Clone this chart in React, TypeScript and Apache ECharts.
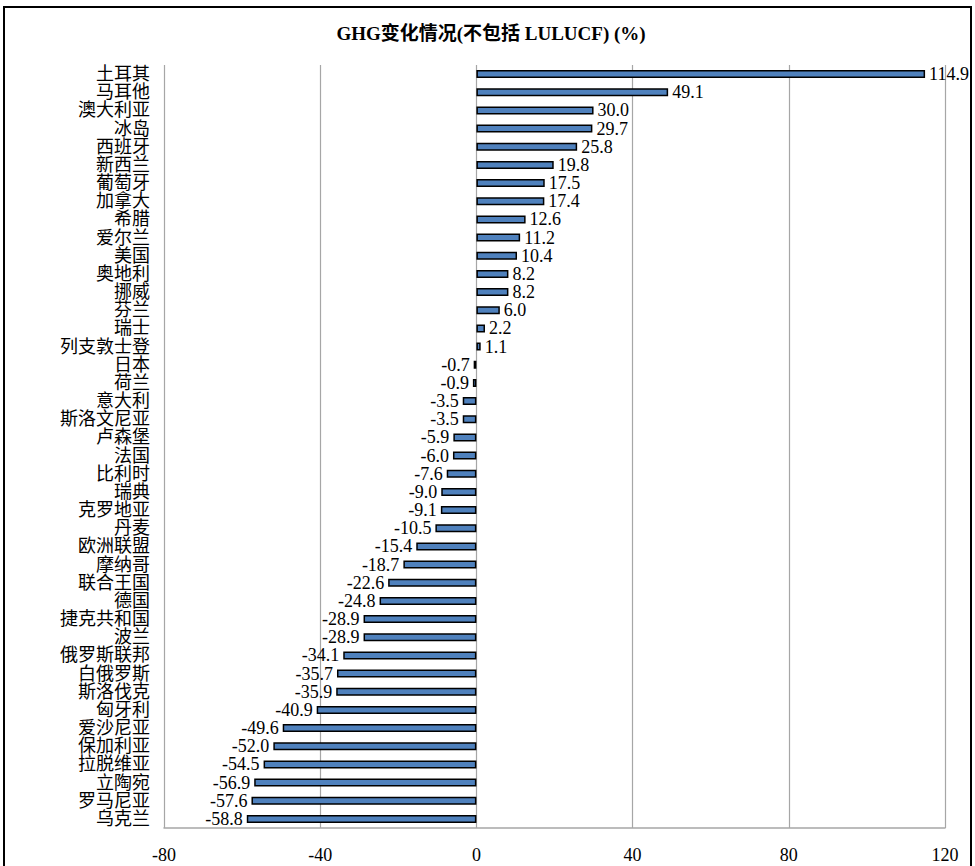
import React, { useEffect, useRef } from "react";
import * as echarts from "echarts";

const categories = [
  "土耳其", "马耳他", "澳大利亚", "冰岛", "西班牙", "新西兰", "葡萄牙", "加拿大", "希腊", "爱尔兰",
  "美国", "奥地利", "挪威", "芬兰", "瑞士", "列支敦士登", "日本", "荷兰", "意大利", "斯洛文尼亚",
  "卢森堡", "法国", "比利时", "瑞典", "克罗地亚", "丹麦", "欧洲联盟", "摩纳哥", "联合王国", "德国",
  "捷克共和国", "波兰", "俄罗斯联邦", "白俄罗斯", "斯洛伐克", "匈牙利", "爱沙尼亚", "保加利亚", "拉脱维亚", "立陶宛",
  "罗马尼亚", "乌克兰",
];

const values = [
  114.9, 49.1, 30.0, 29.7, 25.8, 19.8, 17.5, 17.4, 12.6, 11.2,
  10.4, 8.2, 8.2, 6.0, 2.2, 1.1, -0.7, -0.9, -3.5, -3.5,
  -5.9, -6.0, -7.6, -9.0, -9.1, -10.5, -15.4, -18.7, -22.6, -24.8,
  -28.9, -28.9, -34.1, -35.7, -35.9, -40.9, -49.6, -52.0, -54.5, -56.9,
  -57.6, -58.8,
];

const xTicks = { min: -80, max: 120, interval: 40 };
const titleText = "GHG变化情况(不包括 LULUCF) (%)";

const FONT = '"Liberation Serif", "Times New Roman", "Noto Sans CJK SC", serif';

export default function App() {
  const ref = useRef<HTMLDivElement>(null);
  useEffect(() => {
    if (!ref.current) return;
    const chart = echarts.init(ref.current, undefined, { renderer: "svg" });
    chart.setOption({
      animation: false,
      backgroundColor: "#fff",
      title: {
        text: titleText,
        left: 486,
        top: 19,
        textAlign: "center",
        textStyle: { fontFamily: FONT, fontWeight: "bold", fontSize: 19, color: "#000" },
      },
      graphic: [
        {
          type: "rect",
          shape: { x: 4, y: 7, width: 967, height: 880 },
          style: { fill: "none", stroke: "#000", lineWidth: 2 },
          silent: true,
          z: 100,
        },
      ],
      grid: { left: 164, right: 30, top: 65, bottom: 38, containLabel: false },
      xAxis: {
        type: "value",
        min: xTicks.min,
        max: xTicks.max,
        interval: xTicks.interval,
        axisLine: { show: true, lineStyle: { color: "#A6A6A6", width: 1.5 } },
        axisTick: { show: false },
        splitLine: { show: true, lineStyle: { color: "#A6A6A6", width: 1.2 } },
        axisLabel: { fontFamily: FONT, fontSize: 18, color: "#000", margin: 18 },
      },
      yAxis: {
        type: "category",
        data: categories,
        inverse: true,
        axisLine: { show: false },
        axisTick: { show: false },
        splitLine: { show: false },
        axisLabel: { fontFamily: FONT, fontSize: 18, color: "#000", margin: 14, interval: 0, lineHeight: 18 },
      },
      series: [
        {
          type: "bar",
          barWidth: 8,
          data: values.map((v) => ({
            value: v,
            label: { position: v < 0 ? "left" : "right" },
          })),
          itemStyle: { color: "#4F81BD", borderColor: "#000", borderWidth: 1.5 },
          label: {
            show: true,
            fontFamily: FONT,
            fontSize: 18,
            color: "#000",
            distance: 4,
            formatter: (p: any) => Number(p.value).toFixed(1),
          },
        },
      ],
    });
    return () => chart.dispose();
  }, []);
  return (
    <div
      ref={ref}
      style={{ position: "absolute", left: 0, top: 0, width: 975, height: 866, background: "#fff" }}
    />
  );
}
